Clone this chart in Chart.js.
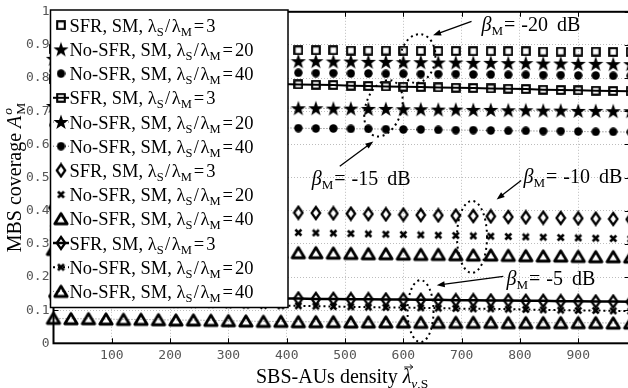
<!DOCTYPE html>
<html><head><meta charset="utf-8">
<script src="https://cdn.jsdelivr.net/npm/chart.js@4/dist/chart.umd.min.js"></script>
<style>
html,body{margin:0;padding:0;background:#fff;overflow:hidden;}
#wrap{position:relative;width:640px;height:388px;}
</style></head><body>
<div id="wrap"><canvas id="c"></canvas></div>
<script>
// ---------------- data ----------------
const xValues = [0,30,60,90,120,150,180,210,240,270,300,330,360,390,420,450,480,510,540,570,600,630,660,690,720,750,780,810,840,870,900,930,960,990];
const xTickValues = [100,200,300,400,500,600,700,800,900];
const yTickValues = [0,0.1,0.2,0.3,0.4,0.5,0.6,0.7,0.8,0.9,1];
const yTickLabels = ['0','0.1','0.2','0.3','0.4','0.5','0.6','0.7','0.8','0.9','1'];

// beta_M = -20 dB
const b20Sfr3 = [0.888,0.888,0.887,0.887,0.887,0.887,0.886,0.886,0.886,0.886,0.885,0.885,0.885,0.884,0.884,0.884,0.884,0.883,0.883,0.883,0.883,0.882,0.882,0.882,0.881,0.881,0.881,0.881,0.880,0.880,0.880,0.880,0.879,0.879];
const b20NoSfr20 = [0.858,0.858,0.857,0.857,0.856,0.856,0.855,0.855,0.854,0.854,0.853,0.853,0.852,0.852,0.851,0.851,0.850,0.850,0.849,0.849,0.848,0.848,0.847,0.847,0.846,0.846,0.845,0.845,0.844,0.844,0.843,0.843,0.842,0.842];
const b20NoSfr40 = [0.822,0.822,0.821,0.821,0.820,0.820,0.819,0.819,0.818,0.818,0.817,0.817,0.817,0.816,0.816,0.815,0.815,0.814,0.814,0.813,0.813,0.812,0.812,0.812,0.811,0.811,0.810,0.810,0.809,0.809,0.808,0.808,0.807,0.807];
// beta_M = -15 dB
const b15Sfr3 = [0.796,0.795,0.794,0.793,0.792,0.791,0.789,0.788,0.787,0.786,0.785,0.784,0.783,0.782,0.781,0.780,0.779,0.777,0.776,0.775,0.774,0.773,0.772,0.771,0.770,0.769,0.768,0.767,0.765,0.764,0.763,0.762,0.761,0.760];
const b15NoSfr20 = [0.716,0.716,0.715,0.715,0.714,0.714,0.713,0.713,0.712,0.712,0.711,0.711,0.710,0.710,0.709,0.709,0.708,0.708,0.707,0.707,0.706,0.706,0.705,0.705,0.704,0.704,0.703,0.703,0.702,0.702,0.701,0.701,0.700,0.700];
const b15NoSfr40 = [0.658,0.657,0.657,0.656,0.655,0.655,0.654,0.654,0.653,0.652,0.652,0.651,0.650,0.650,0.649,0.648,0.648,0.647,0.647,0.646,0.645,0.645,0.644,0.643,0.643,0.642,0.641,0.641,0.640,0.640,0.639,0.638,0.638,0.637];
// beta_M = -10 dB
const b10Sfr3 = [0.409,0.408,0.407,0.406,0.405,0.404,0.403,0.402,0.401,0.399,0.398,0.397,0.396,0.395,0.394,0.393,0.392,0.391,0.390,0.389,0.388,0.387,0.386,0.385,0.384,0.383,0.381,0.380,0.379,0.378,0.377,0.376,0.375,0.374];
const b10NoSfr20 = [0.348,0.347,0.346,0.345,0.344,0.343,0.342,0.341,0.340,0.339,0.338,0.337,0.336,0.335,0.334,0.333,0.332,0.331,0.330,0.329,0.328,0.327,0.326,0.325,0.324,0.323,0.322,0.321,0.320,0.319,0.318,0.317,0.316,0.315];
const b10NoSfr40 = [0.283,0.282,0.282,0.281,0.280,0.280,0.279,0.278,0.277,0.277,0.276,0.275,0.275,0.274,0.273,0.273,0.272,0.271,0.270,0.270,0.269,0.268,0.268,0.267,0.266,0.266,0.265,0.264,0.263,0.263,0.262,0.261,0.261,0.260];
// beta_M = -5 dB
const b5Sfr3 = [0.142,0.141,0.141,0.140,0.140,0.139,0.139,0.138,0.138,0.137,0.137,0.136,0.136,0.135,0.135,0.134,0.134,0.133,0.133,0.132,0.132,0.131,0.131,0.130,0.130,0.129,0.129,0.128,0.128,0.127,0.127,0.126,0.126,0.125];
const b5NoSfr20 = [0.124,0.123,0.122,0.122,0.121,0.120,0.119,0.118,0.117,0.117,0.116,0.115,0.114,0.113,0.113,0.112,0.111,0.110,0.109,0.108,0.108,0.107,0.106,0.105,0.104,0.104,0.103,0.102,0.101,0.100,0.099,0.099,0.098,0.097];
const b5NoSfr40 = [0.075,0.074,0.074,0.073,0.072,0.072,0.071,0.070,0.070,0.069,0.068,0.067,0.066,0.066,0.065,0.065,0.065,0.064,0.064,0.064,0.064,0.063,0.063,0.063,0.063,0.063,0.062,0.062,0.062,0.062,0.062,0.062,0.061,0.061];

const legendSchemes = ['SFR, SM, ','No-SFR, SM, ','No-SFR, SM, ','SFR, SM, ','No-SFR, SM, ','No-SFR, SM, ','SFR, SM, ','No-SFR, SM, ','No-SFR, SM, ','SFR, SM, ','No-SFR, SM, ','No-SFR, SM, '];
const legendRatios = ['3','20','40','3','20','40','3','20','40','3','20','40'];
const betaLabels = ['-20 dB','-15 dB','-10 dB','-5 dB'];
const xTitleText = 'SBS-AUs density ';
const yTitleText = 'MBS coverage ';

// ---------------- markers (styles) ----------------
function mk(w,h,fn){const c=document.createElement('canvas');c.width=w;c.height=h;const g=c.getContext('2d');g.strokeStyle='#000';g.fillStyle='#000';fn(g);return c;}
const MK = {
  square: mk(10,10,g=>{g.lineWidth=2.1;g.strokeRect(1.2,1.2,7.6,7.6);}),
  star: mk(16,16,g=>{const cx=8,cy=8.5,R=8,r=R*0.40;g.beginPath();for(let k=0;k<10;k++){const a=-Math.PI/2+k*Math.PI/5;const rr=k%2?r:R;g.lineTo(cx+rr*Math.cos(a),cy+rr*Math.sin(a));}g.closePath();g.fill();}),
  circle: mk(9,9,g=>{g.beginPath();g.arc(4.5,4.5,4.2,0,2*Math.PI);g.fill();}),
  diamond: mk(12,16,g=>{g.lineWidth=2.3;g.beginPath();g.moveTo(6,2);g.lineTo(10.2,8);g.lineTo(6,14);g.lineTo(1.8,8);g.closePath();g.stroke();}),
  cross: mk(9,9,g=>{g.lineWidth=2.5;g.beginPath();g.moveTo(1.5,1.5);g.lineTo(7.5,7.5);g.moveTo(7.5,1.5);g.lineTo(1.5,7.5);g.stroke();}),
  triangle: mk(18,16,g=>{g.lineWidth=2.8;g.lineJoin='round';g.beginPath();g.moveTo(9,2.8);g.lineTo(15.2,13);g.lineTo(2.8,13);g.closePath();g.stroke();})
};

function pts(vals){return xValues.map((x,i)=>({x:x,y:vals[i]}));}
const seriesDefs = [
  {v:b20Sfr3, m:MK.square, line:null},
  {v:b20NoSfr20, m:MK.star, line:null},
  {v:b20NoSfr40, m:MK.circle, line:null},
  {v:b15Sfr3, m:MK.square, line:{w:2,dash:[]}},
  {v:b15NoSfr20, m:MK.star, line:{w:1,dash:[1,2],c:'#666'}},
  {v:b15NoSfr40, m:MK.circle, line:{w:1,dash:[1,2],c:'#666'}},
  {v:b10Sfr3, m:MK.diamond, line:null},
  {v:b10NoSfr20, m:MK.cross, line:null},
  {v:b10NoSfr40, m:MK.triangle, line:null},
  {v:b5Sfr3, m:MK.diamond, line:{w:2.5,dash:[]}},
  {v:b5NoSfr20, m:MK.cross, line:{w:2,dash:[2,3]}},
  {v:b5NoSfr40, m:MK.triangle, line:{w:1,dash:[1,2],c:'#777'}}
];
const datasets = seriesDefs.map((s,i)=>({
  label: legendSchemes[i]+legendRatios[i],
  data: pts(s.v),
  showLine: !!s.line,
  borderColor: s.line && s.line.c ? s.line.c : '#000',
  backgroundColor: '#000',
  borderWidth: s.line ? s.line.w : 0,
  borderDash: s.line ? s.line.dash : [],
  pointStyle: s.m,
  pointRadius: 5,
  clip: false
}));

// ---------------- text helpers ----------------
const SERIF = '"Liberation Serif", serif';
const fnt = (size, style) => (style ? style+' ' : '') + size + 'px ' + SERIF;
function partW(ctx,p){
  if(p.gap!=null) return p.gap;
  if(p.stack){let w=0;for(const s of p.stack){ctx.font=s.f;w=Math.max(w,ctx.measureText(s.t).width);}return w;}
  ctx.font=p.f; return ctx.measureText(p.t).width;
}
function partsW(ctx,parts){let w=0;for(const p of parts)w+=partW(ctx,p);return w;}
function drawParts(ctx,x,y,parts){
  ctx.textAlign='left';ctx.textBaseline='alphabetic';ctx.fillStyle='#000';
  for(const p of parts){
    const w=partW(ctx,p);
    if(p.stack){for(const s of p.stack){ctx.font=s.f;ctx.fillText(s.t,x,y+s.dy);}}
    else if(p.t!=null){
      ctx.font=p.f;ctx.fillText(p.t,x,y+(p.dy||0));
      if(p.arrow){
        const ay=y-16, x0=x+1.5, x1=x+w+1.5;
        ctx.save();ctx.strokeStyle='#000';ctx.lineWidth=0.9;ctx.beginPath();ctx.moveTo(x0,ay);ctx.lineTo(x1,ay);ctx.stroke();
        ctx.beginPath();ctx.moveTo(x1-3,ay-2.5);ctx.lineTo(x1,ay);ctx.lineTo(x1-3,ay+2.5);ctx.stroke();ctx.restore();
      }
    }
    x+=w;
  }
}
const MAIN = fnt(18.5), SUB = fnt(12.5), ITAL = fnt(18.5,'italic'), SUBI = fnt(12.5,'italic');
const TMAIN = fnt(20), TSUB = fnt(13.5), TITAL = fnt(20,'italic'), TSUBI = fnt(13.5,'italic');
const AMAIN = fnt(20), ASUB = fnt(13), AITAL = fnt(20,'italic');

// ---------------- annotations (positions in data units) ----------------
const annotations = [
  {i:0, text:[734,0.941], from:[717,0.971], to:[651,0.929], ell:[624.7,0.859], rx:17.5, ry:24.5, rot:0.15},
  {i:1, text:[443,0.479], from:[491,0.534], to:[548.5,0.609], ell:[566,0.709], rx:18, ry:29, rot:0.3},
  {i:2, text:[806,0.484], from:[802,0.491], to:[760,0.434], ell:[717.8,0.321], rx:15, ry:36, rot:0},
  {i:3, text:[777,0.175], from:[771.5,0.202], to:[657.3,0.175], ell:[629.5,0.097], rx:13, ry:31, rot:0}
];

const decor = {
  id:'decor',
  afterDatasetsDraw(chart){
    const ctx=chart.ctx, a=chart.chartArea, xs=chart.scales.x, ys=chart.scales.y;
    ctx.save();
    ctx.strokeStyle='#000';ctx.lineWidth=2;ctx.setLineDash([]);
    ctx.strokeRect(a.left,a.top,a.right-a.left,a.bottom-a.top);
    ctx.lineWidth=1;ctx.beginPath();
    for(const v of xTickValues){const px=Math.round(xs.getPixelForValue(v))+0.5;ctx.moveTo(px,a.bottom);ctx.lineTo(px,a.bottom-5);ctx.moveTo(px,a.top);ctx.lineTo(px,a.top+5);}
    for(const v of yTickValues){const py=Math.round(ys.getPixelForValue(v))+0.5;ctx.moveTo(a.left,py);ctx.lineTo(a.left+5,py);ctx.moveTo(a.right,py);ctx.lineTo(a.right-6,py);}
    ctx.stroke();
    for(const an of annotations){
      const ex=xs.getPixelForValue(an.ell[0]), ey=ys.getPixelForValue(an.ell[1]);
      ctx.beginPath();ctx.setLineDash([2,3.5]);ctx.lineWidth=2;ctx.ellipse(ex,ey,an.rx,an.ry,an.rot,0,Math.PI*2);ctx.stroke();
      ctx.setLineDash([]);
      const fx=xs.getPixelForValue(an.from[0]), fy=ys.getPixelForValue(an.from[1]);
      const tx=xs.getPixelForValue(an.to[0]), ty=ys.getPixelForValue(an.to[1]);
      const ang=Math.atan2(ty-fy,tx-fx), L=8, W=3;
      ctx.lineWidth=1.3;ctx.beginPath();ctx.moveTo(fx,fy);ctx.lineTo(tx-Math.cos(ang)*L*0.8,ty-Math.sin(ang)*L*0.8);ctx.stroke();
      ctx.beginPath();ctx.moveTo(tx,ty);
      ctx.lineTo(tx-Math.cos(ang)*L-Math.sin(ang)*W, ty-Math.sin(ang)*L+Math.cos(ang)*W);
      ctx.lineTo(tx-Math.cos(ang)*L+Math.sin(ang)*W, ty-Math.sin(ang)*L-Math.cos(ang)*W);
      ctx.closePath();ctx.fillStyle='#000';ctx.fill();
      const px=xs.getPixelForValue(an.text[0]), py=ys.getPixelForValue(an.text[1]);
      const words=betaLabels[an.i].split(' ');
      drawParts(ctx,px,py,[{t:'β',f:AITAL},{t:'M',f:ASUB,dy:4},{gap:1},{t:'=',f:AMAIN},{gap:6},{t:words[0],f:AMAIN},{gap:9},{t:words[1],f:AMAIN}]);
    }
    ctx.restore();
  },
  afterDraw(chart){
    const ctx=chart.ctx, a=chart.chartArea;
    ctx.save();
    const L=50.5, T=10, R=288, B=307.5;
    ctx.fillStyle='#fff';ctx.fillRect(L,T,R-L,B-T);
    ctx.strokeStyle='#000';ctx.lineWidth=1.5;ctx.setLineDash([]);ctx.strokeRect(L,T,R-L,B-T);
    for(let i=0;i<12;i++){
      const base=31.7+24.2*i, cy=base-6.5, cx=61;
      const s=seriesDefs[i];
      if(s.line){ctx.save();ctx.strokeStyle=s.line.c||'#000';ctx.lineWidth=s.line.w;ctx.setLineDash(s.line.dash);ctx.beginPath();ctx.moveTo(53,cy);ctx.lineTo(69,cy);ctx.stroke();ctx.restore();}
      ctx.drawImage(s.m,cx-s.m.width/2,cy-s.m.height/2);
      drawParts(ctx,69.5,base,[
        {t:legendSchemes[i],f:MAIN},{t:'λ',f:MAIN},{t:'S',f:SUB,dy:4},{gap:1.5},{t:'/',f:MAIN},{gap:1.5},
        {t:'λ',f:MAIN},{t:'M',f:SUB,dy:4},{gap:2},{t:'=',f:MAIN},{gap:2},{t:legendRatios[i],f:MAIN}]);
    }
    const xp=[{t:xTitleText,f:TMAIN},{t:'λ',f:TITAL,arrow:true},{t:'ν',f:TSUBI,dy:5},{t:',',f:TSUB,dy:5},{t:'S',f:TSUB,dy:5}];
    const xw=partsW(ctx,xp);
    drawParts(ctx,(a.left+a.right)/2-xw/2,383,xp);
    const yp=[{t:yTitleText,f:TMAIN},{t:'A',f:TITAL},{gap:1},{stack:[{t:'o',f:TSUBI,dy:-9},{t:'M',f:TSUB,dy:4}]}];
    const yw=partsW(ctx,yp);
    ctx.translate(21,(a.top+a.bottom)/2);ctx.rotate(-Math.PI/2);
    drawParts(ctx,-yw/2,0,yp);
    ctx.restore();
  }
};

new Chart(document.getElementById('c'),{
  type:'scatter',
  data:{datasets:datasets},
  options:{
    responsive:true, maintainAspectRatio:false, animation:false, events:[],
    layout:{padding:{left:0,top:9.5,right:9.3,bottom:0}},
    plugins:{legend:{display:false},tooltip:{enabled:false}},
    scales:{
      x:{type:'linear',min:0,max:990,
        afterBuildTicks:s=>{s.ticks=xTickValues.map(v=>({value:v}));},
        afterFit:s=>{s.height=44.7;},
        ticks:{font:{family:'DejaVu Sans Mono',size:13},color:'#555',padding:5,maxRotation:0,autoSkip:false},
        grid:{color:'#bdbdbd',lineWidth:1,drawTicks:false},
        border:{display:false,dash:[1,2]}},
      y:{type:'linear',min:0,max:1,
        afterBuildTicks:s=>{s.ticks=yTickValues.map(v=>({value:v}));},
        afterFit:s=>{s.width=53.5;},
        ticks:{font:{family:'DejaVu Sans Mono',size:13},color:'#555',padding:4,autoSkip:false,callback:(v,i)=>yTickLabels[i]},
        grid:{color:'#bdbdbd',lineWidth:1,drawTicks:false},
        border:{display:false,dash:[1,2]}}
    }
  },
  plugins:[decor]
});
</script>
</body></html>
